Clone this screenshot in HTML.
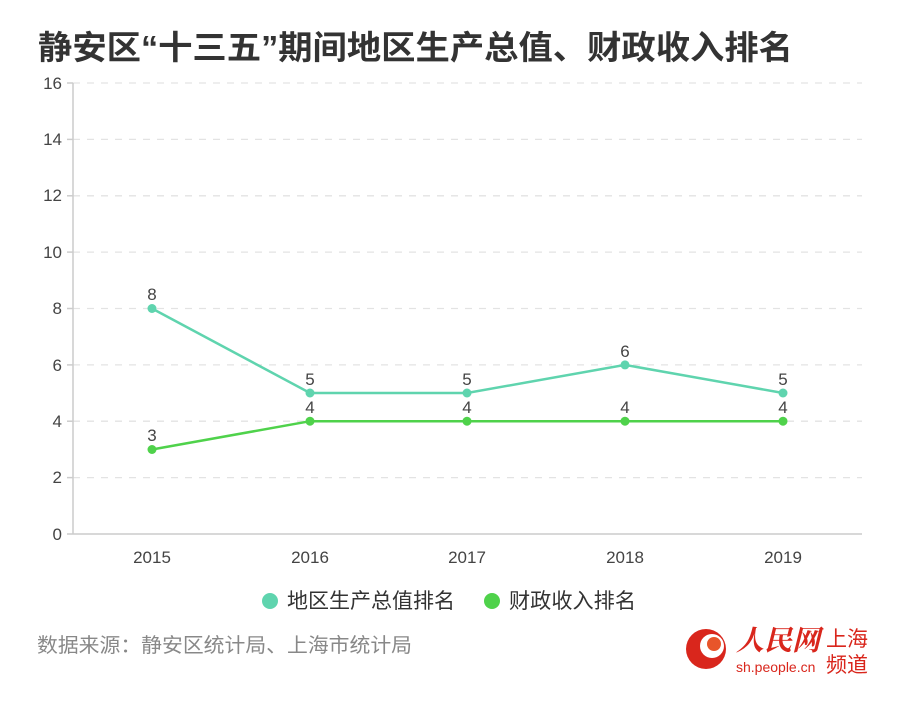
<!DOCTYPE html>
<html><head><meta charset="utf-8"><style>
body{margin:0;background:#fff;width:900px;height:698px;overflow:hidden;font-family:"Liberation Sans","Noto Sans CJK SC",sans-serif}
</style></head><body>
<svg width="900" height="698" xmlns="http://www.w3.org/2000/svg" font-family="Liberation Sans, Noto Sans CJK SC, sans-serif">
<text x="38" y="59" font-size="33" font-weight="bold" fill="#333" textLength="755" lengthAdjust="spacingAndGlyphs">静安区“十三五”期间地区生产总值、财政收入排名</text>
<g stroke="#e3e3e3" stroke-width="1.3" stroke-dasharray="7,7">
<line x1="73" y1="83" x2="862" y2="83"/><line x1="73" y1="139.4" x2="862" y2="139.4"/>
<line x1="73" y1="195.8" x2="862" y2="195.8"/><line x1="73" y1="252.1" x2="862" y2="252.1"/>
<line x1="73" y1="308.5" x2="862" y2="308.5"/><line x1="73" y1="364.9" x2="862" y2="364.9"/>
<line x1="73" y1="421.2" x2="862" y2="421.2"/><line x1="73" y1="477.6" x2="862" y2="477.6"/>
</g>
<g stroke="#ccc" stroke-width="1.5">
<line x1="73" y1="83" x2="73" y2="534"/><line x1="67" y1="534" x2="862" y2="534"/>
<line x1="67" y1="83" x2="73" y2="83"/><line x1="67" y1="139.4" x2="73" y2="139.4"/><line x1="67" y1="195.8" x2="73" y2="195.8"/><line x1="67" y1="252.1" x2="73" y2="252.1"/><line x1="67" y1="308.5" x2="73" y2="308.5"/><line x1="67" y1="364.9" x2="73" y2="364.9"/><line x1="67" y1="421.2" x2="73" y2="421.2"/><line x1="67" y1="477.6" x2="73" y2="477.6"/>
</g>
<g font-size="17" fill="#444" text-anchor="end">
<text x="62" y="89">16</text><text x="62" y="145">14</text><text x="62" y="201">12</text><text x="62" y="258">10</text><text x="62" y="314">8</text><text x="62" y="371">6</text><text x="62" y="427">4</text><text x="62" y="483">2</text><text x="62" y="540">0</text>
</g>
<g font-size="17" fill="#444" text-anchor="middle">
<text x="152" y="563">2015</text><text x="310" y="563">2016</text><text x="467" y="563">2017</text><text x="625" y="563">2018</text><text x="783" y="563">2019</text>
</g>
<polyline points="152,308.5 310,393 467,393 625,364.9 783,393" fill="none" stroke="#5fd4ae" stroke-width="2.5"/>
<polyline points="152,449.5 310,421.2 467,421.2 625,421.2 783,421.2" fill="none" stroke="#4fd24b" stroke-width="2.5"/>
<g fill="#5fd4ae"><circle cx="152" cy="308.5" r="4.5"/><circle cx="310" cy="393" r="4.5"/><circle cx="467" cy="393" r="4.5"/><circle cx="625" cy="364.9" r="4.5"/><circle cx="783" cy="393" r="4.5"/></g>
<g fill="#4fd24b"><circle cx="152" cy="449.5" r="4.5"/><circle cx="310" cy="421.2" r="4.5"/><circle cx="467" cy="421.2" r="4.5"/><circle cx="625" cy="421.2" r="4.5"/><circle cx="783" cy="421.2" r="4.5"/></g>
<g font-size="17" fill="#444" text-anchor="middle">
<text x="152" y="300">8</text><text x="310" y="385">5</text><text x="467" y="385">5</text><text x="625" y="357">6</text><text x="783" y="385">5</text>
<text x="152" y="441">3</text><text x="310" y="413">4</text><text x="467" y="413">4</text><text x="625" y="413">4</text><text x="783" y="413">4</text>
</g>
<circle cx="270" cy="601" r="8" fill="#5fd4ae"/>
<text x="287" y="608" font-size="21" fill="#333" textLength="168" lengthAdjust="spacingAndGlyphs">地区生产总值排名</text>
<circle cx="492" cy="601" r="8" fill="#4fd24b"/>
<text x="509" y="608" font-size="21" fill="#333" textLength="127" lengthAdjust="spacingAndGlyphs">财政收入排名</text>
<text x="37" y="652" font-size="20" fill="#888" textLength="375" lengthAdjust="spacingAndGlyphs">数据来源：静安区统计局、上海市统计局</text>
<circle cx="706" cy="649" r="20" fill="#d9261c"/>
<circle cx="712" cy="646" r="12" fill="#fff"/>
<circle cx="714" cy="644" r="7" fill="#e8552a"/>
<text x="736" y="650" font-size="28" font-style="italic" font-weight="bold" fill="#d9261c" font-family="Noto Serif CJK SC, serif">人民网</text>
<text x="736" y="672" font-size="14" fill="#d9261c">sh.people.cn</text>
<text x="826" y="646" font-size="21" fill="#d9261c">上海</text>
<text x="826" y="672" font-size="21" fill="#d9261c">频道</text>
</svg>
</body></html>
